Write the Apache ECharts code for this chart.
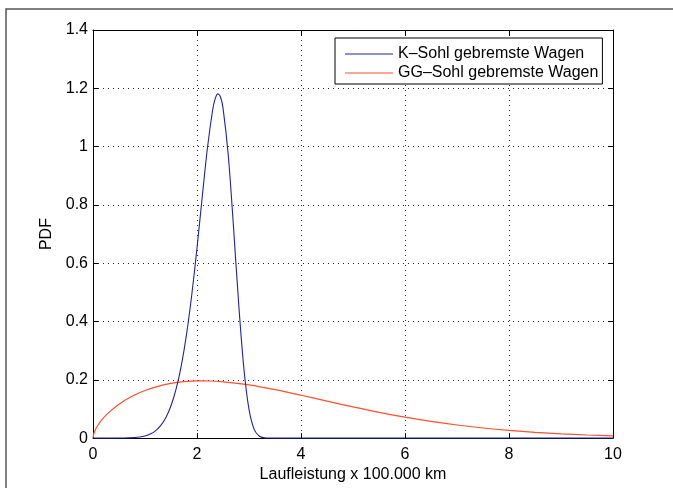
<!DOCTYPE html>
<html>
<head>
<meta charset="utf-8">
<script src="https://cdn.jsdelivr.net/npm/echarts@6/dist/echarts.min.js"></script>
<style>
html,body{margin:0;padding:0;background:#fff;}
#chart{width:673px;height:488px;}
</style>
</head>
<body>
<div id="chart"></div>
<script>
// ---- data ----
var seriesNames = ['K\u2013Sohl gebremste Wagen', 'GG\u2013Sohl gebremste Wagen'];
var xTicks = [0, 2, 4, 6, 8, 10];
var yTicks = [0, 0.2, 0.4, 0.6, 0.8, 1, 1.2, 1.4];

var kSohlX = [0, 0.6, 0.8, 0.9, 1.0, 1.1, 1.2, 1.3, 1.4, 1.5, 1.6, 1.7, 1.8, 1.9, 2.0, 2.1, 2.2, 2.3, 2.35, 2.4, 2.45, 2.5, 2.6, 2.7, 2.8, 2.9, 3.0, 3.1, 3.2, 3.3, 3.4, 3.6, 10];
var kSohlY = [0, 0.0002, 0.0016, 0.0035, 0.0072, 0.0137, 0.0248, 0.0425, 0.0700, 0.1108, 0.1694, 0.2504, 0.3575, 0.4925, 0.6522, 0.8264, 0.9943, 1.1247, 1.1644, 1.1810, 1.1712, 1.1329, 0.9728, 0.7297, 0.4641, 0.2415, 0.0985, 0.0299, 0.0064, 0.0009, 0.0001, 0, 0];

var ggSohlX = [0, 0.02, 0.05, 0.1, 0.2, 0.3, 0.5, 0.75, 1.0, 1.25, 1.5, 1.75, 2.0, 2.25, 2.5, 3.0, 3.5, 4.0, 4.5, 5.0, 5.5, 6.0, 6.5, 7.0, 7.5, 8.0, 8.5, 9.0, 9.5, 10];
var ggSohlY = [0, 0.0175, 0.0303, 0.0458, 0.0691, 0.0874, 0.1163, 0.1433, 0.1632, 0.1777, 0.1876, 0.1935, 0.1961, 0.1959, 0.1932, 0.1823, 0.1661, 0.1470, 0.1268, 0.1070, 0.0885, 0.0718, 0.0572, 0.0449, 0.0346, 0.0263, 0.0197, 0.0146, 0.0106, 0.0077];

var xLabel = 'Laufleistung x 100.000 km';
var yLabel = 'PDF';

function pairs(xs, ys) { return xs.map(function (x, i) { return [x, ys[i]]; }); }

var FONT = '"Liberation Sans", Arial, Helvetica, sans-serif';
var FS = 16;
var chart = echarts.init(document.getElementById('chart'), null, {renderer: 'canvas'});

var xMin = xTicks[0], xMax = xTicks[xTicks.length - 1], xInt = xTicks[1] - xTicks[0];
var yMin = yTicks[0], yMax = yTicks[yTicks.length - 1], yInt = 0.2;

function axisCommon() {
  return {
    axisLine: {show: true, onZero: false, lineStyle: {color: '#000', width: 1}},
    axisTick: {show: true, inside: true, length: 5, lineStyle: {color: '#000', width: 1}},
    axisLabel: {color: '#000', fontFamily: FONT, fontSize: FS},
    nameTextStyle: {color: '#000', fontFamily: FONT, fontSize: FS}
  };
}

var xMain = Object.assign(axisCommon(), {
  type: 'value', position: 'bottom', min: xMin, max: xMax, interval: xInt,
  name: xLabel, nameLocation: 'middle', nameGap: 26,
  splitLine: {show: true, lineStyle: {color: '#222', width: 1, type: [1, 4]}}
});
xMain.axisLabel.margin = 8;
var xTop = Object.assign(axisCommon(), {
  type: 'value', position: 'top', min: xMin, max: xMax, interval: xInt,
  splitLine: {show: false}
});
xTop.axisLabel.show = false;

var yMain = Object.assign(axisCommon(), {
  type: 'value', position: 'left', min: yMin, max: yMax, interval: yInt,
  name: yLabel, nameLocation: 'middle', nameGap: 35,
  splitLine: {show: true, lineStyle: {color: '#222', width: 1, type: [1, 4]}}
});
yMain.axisLabel.margin = 5;
yMain.axisLabel.formatter = function (v) { return String(Math.round(v * 10) / 10); };
var yRight = Object.assign(axisCommon(), {
  type: 'value', position: 'right', min: yMin, max: yMax, interval: yInt,
  splitLine: {show: false}
});
yRight.axisLabel.show = false;

chart.setOption({
  backgroundColor: '#fff',
  animation: false,
  textStyle: {fontFamily: FONT},
  grid: {left: 93, top: 30, right: 60, bottom: 49, containLabel: false},
  xAxis: [xMain, xTop],
  yAxis: [yMain, yRight],
  legend: {
    orient: 'vertical', left: 335, top: 38,
    padding: [8, 4, 3, 10], itemGap: 3,
    icon: 'rect', itemWidth: 48, itemHeight: 1.2,
    backgroundColor: '#fff', borderColor: '#000', borderWidth: 1, borderRadius: 0,
    textStyle: {color: '#000', fontFamily: FONT, fontSize: FS, lineHeight: 16, padding: [0, 0, 0, 0]},
    data: seriesNames
  },
  graphic: [{
    type: 'polyline', silent: true, z: 100,
    shape: {points: [[6, 488], [6, 9], [673, 9]]},
    style: {stroke: '#555', lineWidth: 1.5, fill: null}
  }],
  series: [
    {
      name: seriesNames[0], type: 'line', xAxisIndex: 0, yAxisIndex: 0,
      data: pairs(kSohlX, kSohlY), showSymbol: false, symbol: 'none',
      smooth: 0.3,
      lineStyle: {color: '#23239a', width: 1.1}, itemStyle: {color: '#23239a'}, z: 3
    },
    {
      name: seriesNames[1], type: 'line', xAxisIndex: 0, yAxisIndex: 0,
      data: pairs(ggSohlX, ggSohlY), showSymbol: false, symbol: 'none',
      smooth: 0.3,
      lineStyle: {color: '#ff5030', width: 1.2}, itemStyle: {color: '#ff5030'}, z: 2
    }
  ]
});
</script>
</body>
</html>
